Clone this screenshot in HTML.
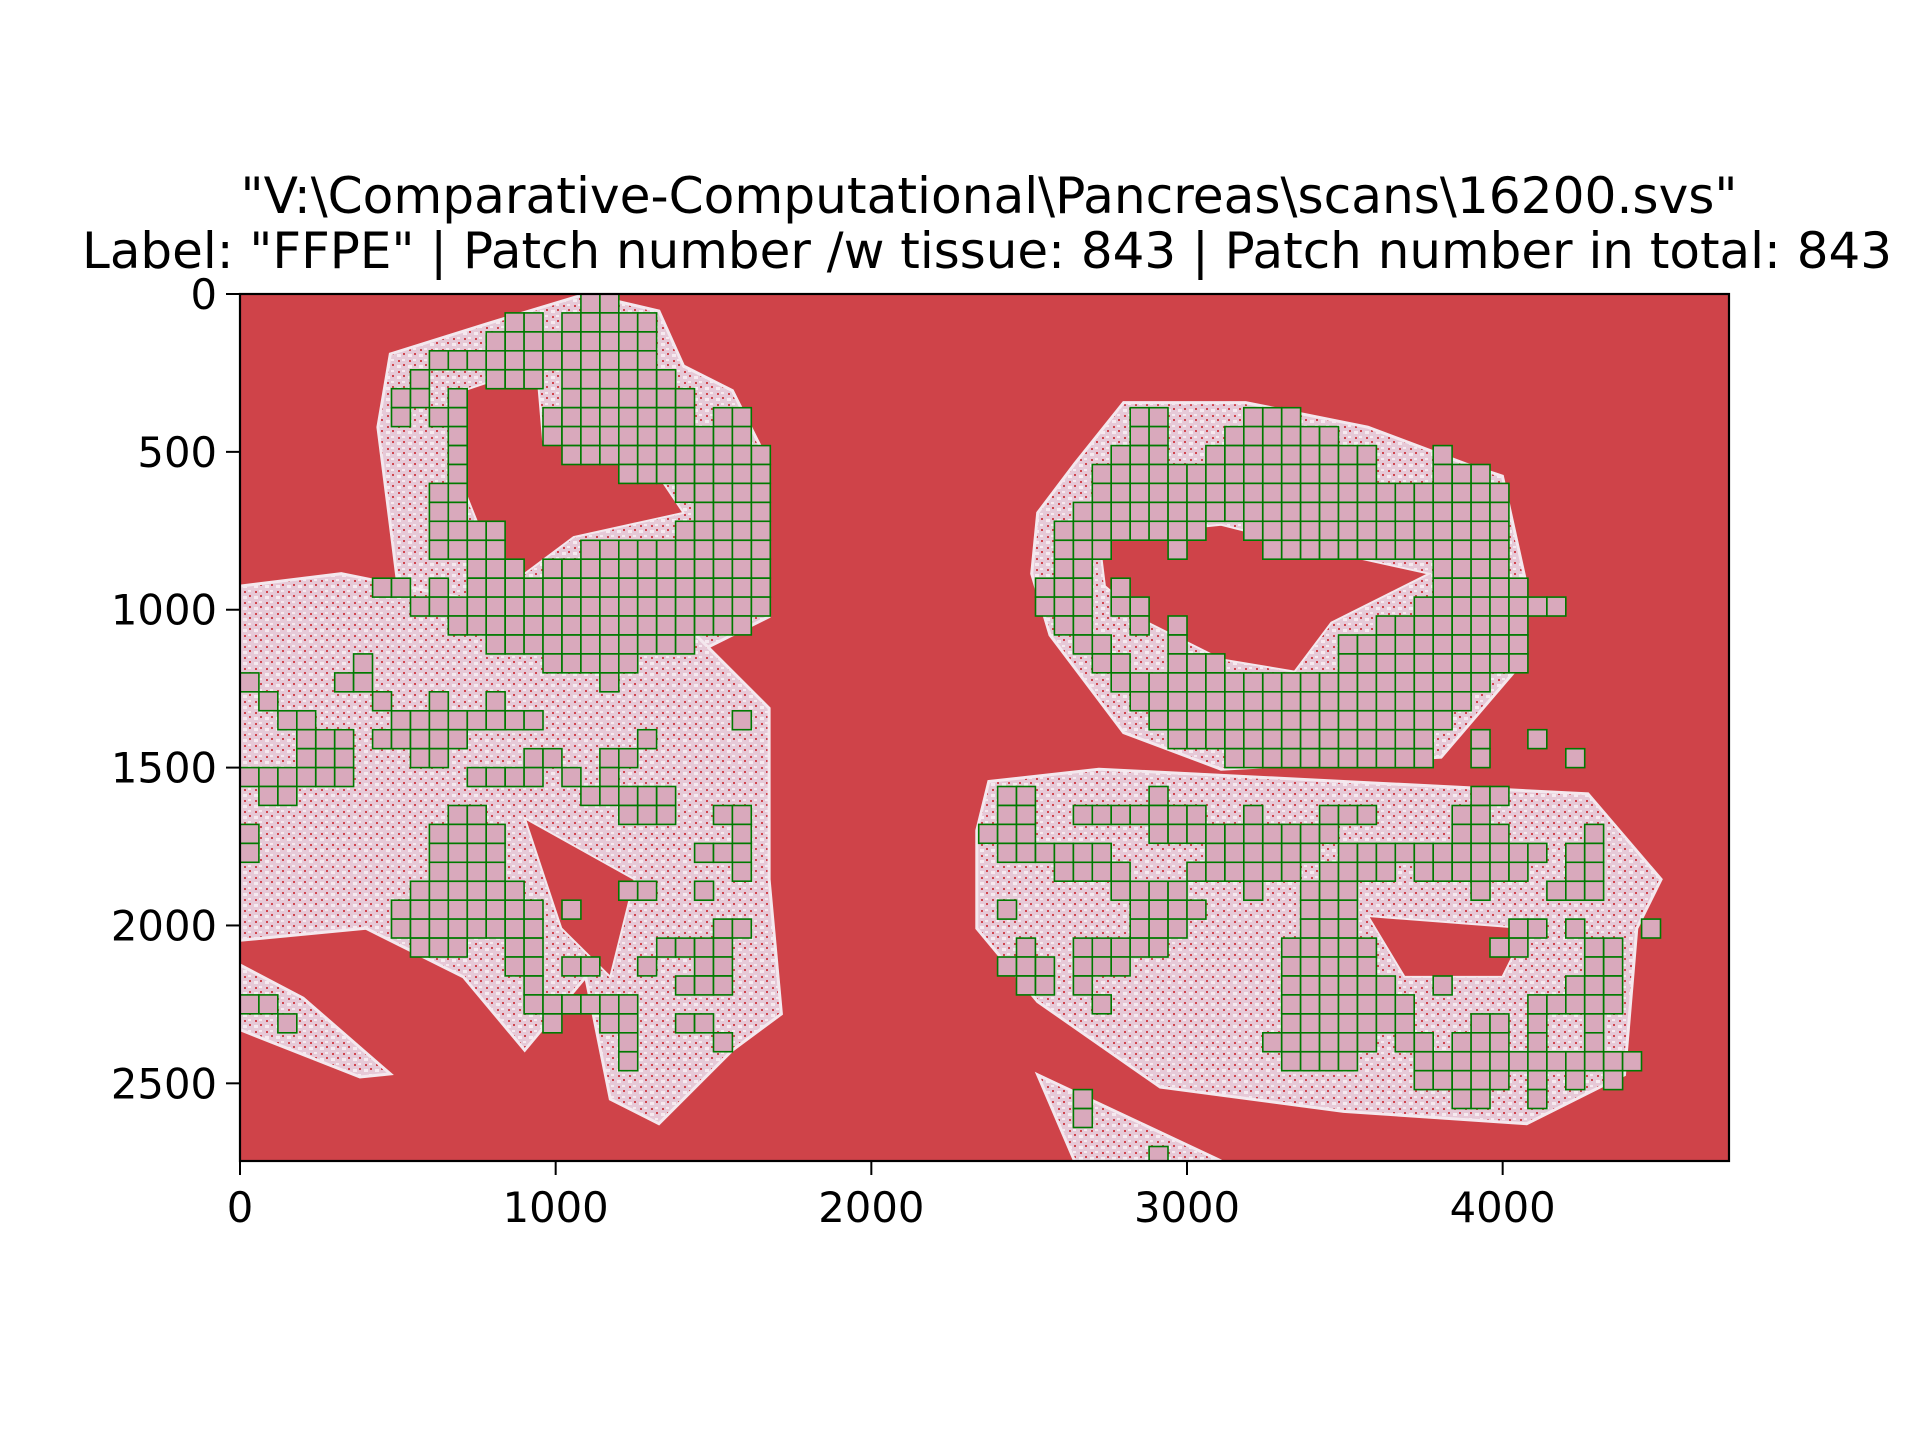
<!DOCTYPE html>
<html><head><meta charset="utf-8"><style>
html,body{margin:0;padding:0;background:#fff;}
svg{display:block;font-family:"DejaVu Sans","Liberation Sans",sans-serif;}
</style></head><body>
<svg id="chart" width="1920" height="1440" viewBox="0 0 1920 1440">
<text x="989" y="213" font-size="50" text-anchor="middle" textLength="1497" lengthAdjust="spacingAndGlyphs">"V:\Comparative-Computational\Pancreas\scans\16200.svs"</text>
<text x="987" y="268" font-size="50" text-anchor="middle" textLength="1810" lengthAdjust="spacingAndGlyphs">Label: "FFPE" | Patch number /w tissue: 843 | Patch number in total: 843</text>
<g id="plot"></g>
</svg>
<script>
const xTicks=[0,1000,2000,3000,4000];
const yTicks=[0,500,1000,1500,2000,2500];
const xMax=4717, yMax=2746, cellSize=60;
// tissue outlines (slide units)
const tissueTL=[[476,190],[786,93],[1095,0],[1327,54],[1405,228],[1560,306],[1676,538],[1676,1022],[1405,1157],[1173,1254],[940,1196],[515,1041],[476,731],[437,422]];
const holeTL=[[708,306],[940,228],[960,461],[1327,577],[1405,693],[1057,770],[902,886],[786,809],[708,615]];
const tissueBL=[[0,925],[321,886],[902,1002],[1405,1041],[1676,1312],[1676,1854],[1715,2280],[1560,2395],[1327,2628],[1173,2550],[1095,2163],[902,2395],[708,2163],[399,2009],[0,2047]];
const holeBL=[[902,1660],[1250,1854],[1173,2163],[1018,2009]];
const tissueBL2=[[0,2125],[200,2230],[476,2470],[380,2480],[0,2330]];
const tissueTR=[[2527,693],[2644,538],[2799,344],[2954,344],[3186,344],[3573,422],[3883,538],[3999,577],[4076,925],[4037,1196],[3805,1467],[3108,1505],[2799,1389],[2566,1080],[2508,886]];
const holeTR=[[2721,770],[3108,731],[3418,809],[3767,886],[3457,1041],[3341,1196],[3108,1157],[2876,1041],[2740,925]];
const tissueBR=[[2372,1544],[2721,1505],[3496,1544],[4270,1583],[4502,1854],[4425,2009],[4386,2473],[4076,2628],[3496,2589],[2915,2512],[2527,2241],[2334,2009],[2334,1699]];
const holeBR=[[3573,1970],[4076,2009],[3999,2163],[3689,2163]];
const tissueBR2=[[2527,2473],[3108,2746],[2644,2746]];
// patch runs: [row, colStart, colEnd]
const patchRuns=[
[0,18,19],[1,14,15],[1,17,21],[2,13,21],[3,10,21],[4,9,9],[4,13,15],[4,17,22],[5,8,9],[5,11,11],[5,17,23],
[6,8,8],[6,10,11],[6,16,23],[6,25,26],[7,11,11],[7,16,26],[8,11,11],[8,17,27],[9,11,11],[9,20,27],
[10,10,11],[10,23,27],[11,10,11],[11,24,27],[12,10,13],[12,23,27],[13,10,13],[13,18,27],[14,12,14],[14,16,27],
[15,7,8],[15,10,10],[15,12,27],[16,9,27],[17,11,26],[18,13,23],[19,6,6],[19,16,20],[20,0,0],[20,5,6],[20,19,19],
[21,1,1],[21,7,7],[21,10,10],[21,13,13],[22,2,3],[22,8,15],[22,26,26],[23,3,5],[23,7,11],[23,21,21],
[24,3,5],[24,9,10],[24,15,16],[24,19,20],[25,0,5],[25,12,15],[25,17,17],[25,19,19],[26,1,2],[26,18,22],
[27,11,12],[27,20,22],[27,25,26],[28,0,0],[28,10,13],[28,26,26],[29,0,0],[29,10,13],[29,24,26],[30,10,13],[30,26,26],
[31,9,14],[31,20,21],[31,24,24],[32,8,15],[32,17,17],[33,8,15],[33,25,26],[34,9,11],[34,14,15],[34,22,25],
[35,14,15],[35,17,18],[35,21,21],[35,24,25],[36,15,15],[36,23,25],[37,0,1],[37,15,20],[38,2,2],[38,16,16],[38,19,20],[38,23,24],
[39,20,20],[39,25,25],[40,20,20],
[6,47,48],[6,53,55],[7,47,48],[7,52,57],[8,46,48],[8,51,59],[8,63,63],[9,45,59],[9,63,65],[10,45,66],[11,44,66],
[12,43,50],[12,53,66],[13,43,45],[13,49,49],[13,54,66],[14,43,44],[14,63,66],[15,42,44],[15,46,46],[15,63,67],
[16,42,44],[16,46,47],[16,62,69],[17,43,44],[17,47,47],[17,49,49],[17,60,67],[18,44,45],[18,49,49],[18,58,67],
[19,45,46],[19,49,51],[19,58,67],[20,46,65],[21,47,64],[22,48,63],[23,49,62],[23,65,65],[23,68,68],
[24,52,62],[24,65,65],[24,70,70],
[26,40,41],[26,48,48],[26,65,66],[27,40,41],[27,44,50],[27,53,53],[27,57,59],[27,64,65],
[28,39,41],[28,48,57],[28,64,66],[28,71,71],[29,40,45],[29,51,56],[29,58,68],[29,70,71],
[30,43,46],[30,50,55],[30,57,60],[30,62,67],[30,70,71],[31,46,49],[31,53,53],[31,56,58],[31,65,65],[31,69,71],
[32,40,40],[32,47,50],[32,56,58],[33,47,49],[33,56,58],[33,67,68],[33,70,70],[33,74,74],
[34,41,41],[34,44,48],[34,55,59],[34,66,67],[34,71,72],[35,40,42],[35,44,46],[35,55,59],[35,71,72],
[36,41,42],[36,44,44],[36,55,60],[36,63,63],[36,70,72],[37,45,45],[37,55,61],[37,68,72],
[38,55,61],[38,65,66],[38,68,68],[38,71,71],[39,54,59],[39,61,62],[39,64,66],[39,68,68],[39,71,71],
[40,55,58],[40,62,73],[41,62,66],[41,68,68],[41,70,70],[41,72,72],[42,44,44],[42,64,65],[42,68,68],[43,44,44],[45,48,48]
];
const NS='http://www.w3.org/2000/svg';
const L=240,R=1729,T=294,B=1161;
const sx=v=>L+v/xMax*(R-L);
const sy=v=>T+v/yMax*(B-T);
const plot=document.getElementById('plot');
function mk(tag,attrs,parent){const e=document.createElementNS(NS,tag);for(const k in attrs)e.setAttribute(k,attrs[k]);(parent||plot).appendChild(e);return e;}
const defs=mk('defs',{});
const cp=mk('clipPath',{id:'clip'},defs);mk('rect',{x:L,y:T,width:R-L,height:B-T},cp);
const pat=mk('pattern',{id:'speck',width:11,height:11,patternUnits:'userSpaceOnUse'},defs);
mk('rect',{x:0,y:0,width:11,height:11,fill:'#e6c9d7'},pat);
mk('rect',{x:1,y:2,width:4,height:3,fill:'#f6eaf0'},pat);
mk('rect',{x:6,y:7,width:3,height:2,fill:'#f6eaf0'},pat);
mk('rect',{x:7,y:1,width:2,height:2,fill:'#d0464f'},pat);
mk('rect',{x:2,y:8,width:2,height:2,fill:'#d0464f'},pat);
const g=mk('g',{'clip-path':'url(#clip)'});
const bg=mk('rect',{x:L,y:T,width:R-L,height:B-T,fill:'#cf4349'},g);


const pts=a=>a.map(p=>sx(p[0]).toFixed(1)+','+sy(p[1]).toFixed(1)).join(' ');
const tissues=[[tissueTL,'tissue-top-left'],[tissueBL,'tissue-bottom-left'],[tissueBL2,'tissue-bottom-left-strip'],[tissueTR,'tissue-top-right'],[tissueBR,'tissue-bottom-right'],[tissueBR2,'tissue-bottom-right-strip']];
tissues.forEach(t=>{
  const p=mk('polygon',{points:pts(t[0]),fill:'url(#speck)',stroke:'#f4e8ee','stroke-width':3},g);
  
  
});
[holeTL,holeBL,holeTR,holeBR].forEach(h=>{
  const p=mk('polygon',{points:pts(h),fill:'#cf4349',stroke:'#f4e8ee','stroke-width':2},g);
  
  
});
const pg=mk('g',{},g);
patchRuns.forEach(r=>{
  for(let c=r[1];c<=r[2];c++){
    const x0=sx(c*cellSize),y0=sy(r[0]*cellSize);
    const w=sx((c+1)*cellSize)-x0,h=sy((r[0]+1)*cellSize)-y0;
    const e=mk('rect',{x:x0.toFixed(1),y:y0.toFixed(1),width:w.toFixed(1),height:h.toFixed(1),fill:'#d9a9bc',stroke:'#007a00','stroke-width':1.6},pg);
    
    
  }
});
const frame=mk('rect',{x:L,y:T,width:R-L,height:B-T,fill:'none',stroke:'#000','stroke-width':2.2});


xTicks.forEach(v=>{
  const x=sx(v);
  const t=mk('line',{x1:x,x2:x,y1:B,y2:B+14,stroke:'#000','stroke-width':2});
  
  
  const l=mk('text',{x:x,y:1222,'font-size':41.7,'text-anchor':'middle'});
  l.textContent=v;
  
  
});
yTicks.forEach(v=>{
  const y=sy(v);
  const t=mk('line',{x1:L-14,x2:L,y1:y,y2:y,stroke:'#000','stroke-width':2});
  
  
  const l=mk('text',{x:217,y:y+15,'font-size':41.7,'text-anchor':'end'});
  l.textContent=v;
  
  
});
</script>
</body></html>
